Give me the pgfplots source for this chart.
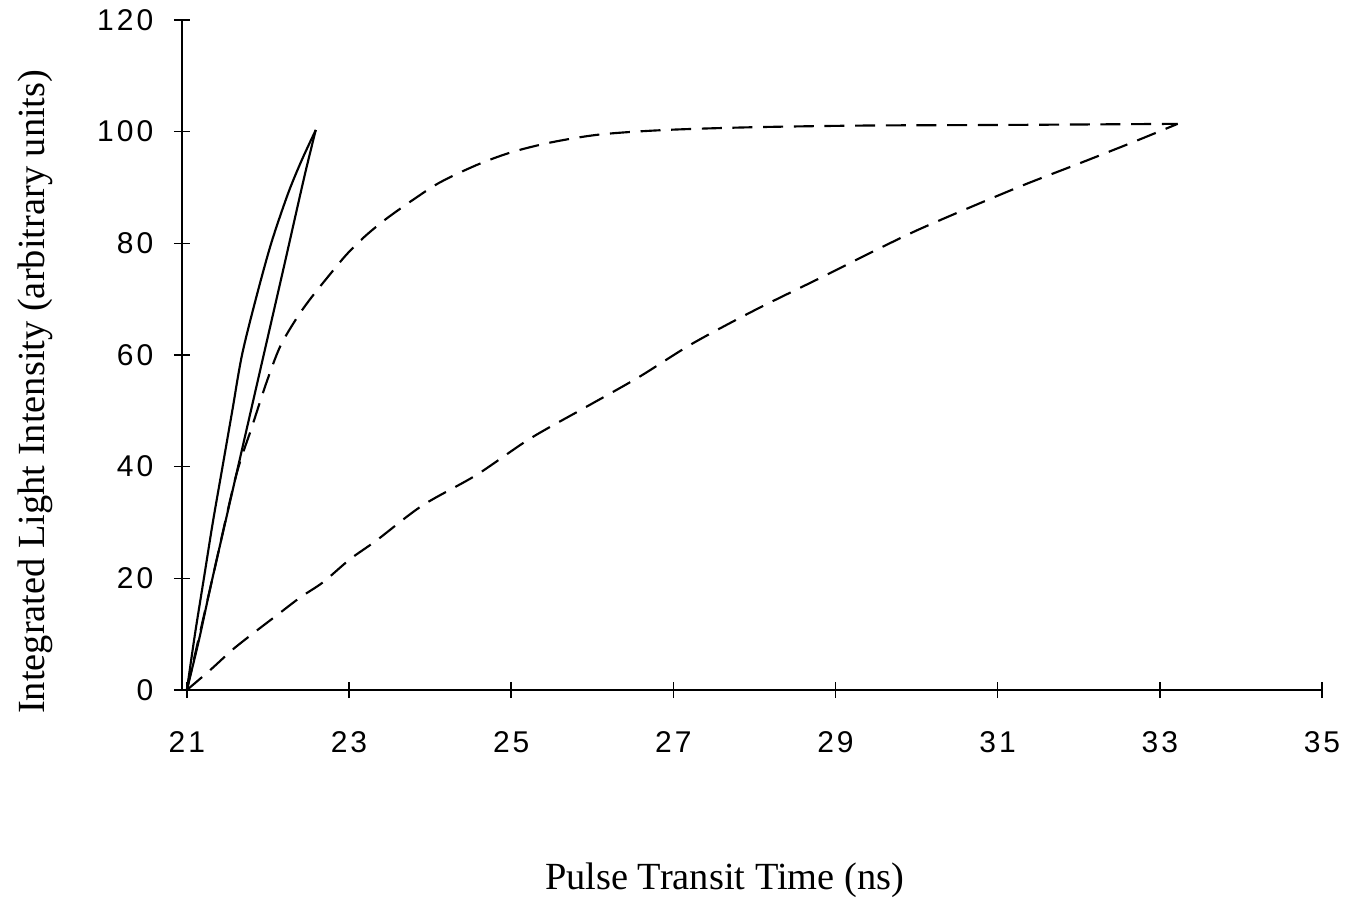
\documentclass[border=0pt]{standalone}
\usepackage{fontspec}
\usepackage{pgfplots}
\pgfplotsset{compat=1.18}
\setmainfont{Liberation Serif}
\newfontfamily\tickfont[LetterSpace=10]{Liberation Sans}

% integrated light intensity vs. pulse transit time
\pgfplotstableread{
x y
21.00 0
21.10 10
21.21 20
21.32 30
21.44 40
21.56 50
21.68 60
21.85 70
22.04 80
22.25 89
22.42 95
22.59 100.3
}\solidA
\pgfplotstableread{
x y
21.00 0
21.15 9
21.30 19
21.60 38
21.90 57
22.20 76
22.45 92
22.59 100.3
}\solidB
\pgfplotstableread{
x y
21.00 0
21.30 19
21.60 38
21.80 47
21.98 55
22.15 61.5
22.35 66.5
22.52 70
22.74 74
22.97 78
23.20 81.3
23.46 84.4
23.79 87.8
24.12 90.9
24.57 94
25.00 96.3
25.50 98.1
26.10 99.5
26.90 100.3
28.00 100.8
29.40 101.1
31.06 101.2
33.22 101.4
}\dashA
\pgfplotstableread{
x y
21.00 0
21.29 3.6
21.57 7.3
21.84 10.4
22.12 13.5
22.40 16.6
22.68 19.3
23.01 23.4
23.34 26.8
23.90 33
24.57 38.5
25.23 45
25.90 50.5
26.57 56
27.23 62
28.00 68
28.84 74
29.50 78.8
30.00 82.3
30.62 86.2
31.33 90.5
32.04 94.5
32.70 98.3
33.22 101.4
}\dashB

\begin{document}
\begin{tikzpicture}
\useasboundingbox (-136.5pt,-156.75pt) rectangle (880.5pt,517.5pt);
\begin{axis}[
  at={(0,0)}, anchor=south west,
  scale only axis,
  width=855pt, height=502.5pt,
  xmin=20.94, xmax=35, ymin=0, ymax=120,
  axis lines=left,
  axis line style={-, line width=1.1pt},
  xtick={21,23,...,35}, ytick={0,20,...,120},
  tick align=center,
  major tick length=12pt,
  tick style={line width=1.1pt, black},
  /pgf/number format/assume math mode=true,
  ticklabel style={font=\tickfont\fontsize{22.5pt}{24pt}\selectfont},
  xticklabel style={yshift=-22pt},
  yticklabel style={xshift=-12pt},
  xlabel={Pulse Transit Time (ns)},
  ylabel={Integrated Light Intensity (arbitrary units)},
  label style={font=\fontsize{28.8pt}{32pt}\selectfont},
  xlabel style={at={(axis description cs:0.476,0)}, anchor=center, yshift=-142.5pt},
  ylabel style={at={(axis description cs:0,0.445)}, anchor=center, yshift=110.25pt},
  clip=false,
]
\addplot[black, line width=1.6pt, smooth] table[x=x,y=y] {\solidA};
\addplot[black, line width=1.6pt, smooth] table[x=x,y=y] {\solidB};
\addplot[black, line width=1.6pt, smooth, dash pattern=on 15pt off 8pt] table[x=x,y=y] {\dashA};
\addplot[black, line width=1.6pt, smooth, dash pattern=on 15pt off 8pt] table[x=x,y=y] {\dashB};
\end{axis}
\end{tikzpicture}
\end{document}
